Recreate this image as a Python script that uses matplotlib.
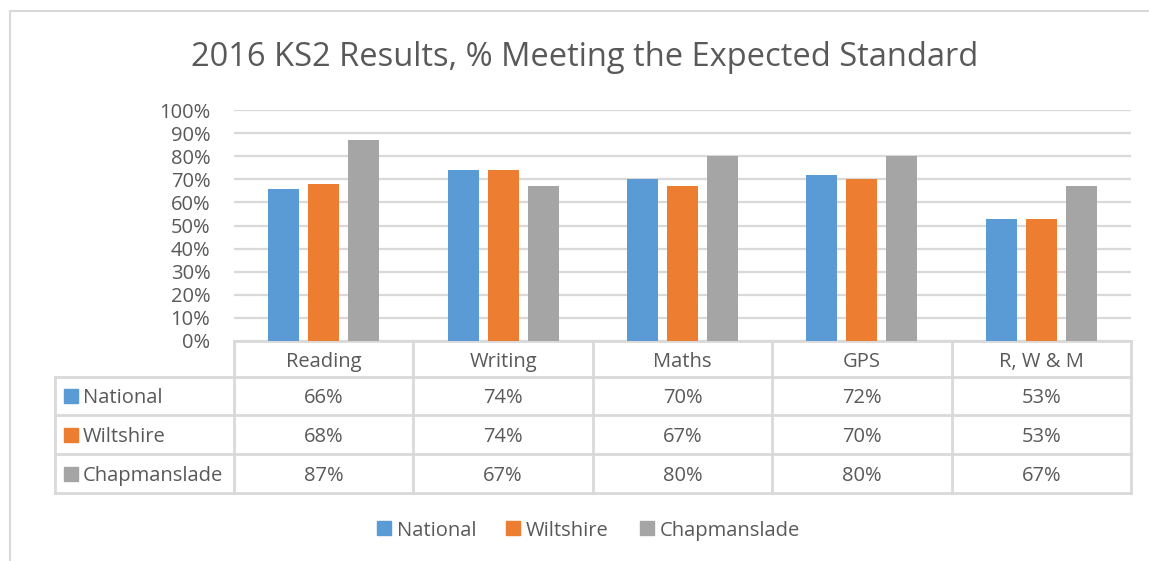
import numpy as np
import matplotlib
matplotlib.use("Agg")
import matplotlib.pyplot as plt
from matplotlib.patches import Rectangle

plt.rcParams['font.family'] = ['Open Sans', 'DejaVu Sans']

categories = ['Reading', 'Writing', 'Maths', 'GPS', 'R, W & M']
series = ['National', 'Wiltshire', 'Chapmanslade']
national = [66, 74, 70, 72, 53]
wiltshire = [68, 74, 67, 70, 53]
chapmanslade = [87, 67, 80, 80, 67]
colors = ['#5b9bd5', '#ed7d31', '#a5a5a5']
title = '2016 KS2 Results, % Meeting the Expected Standard'

txt = '#595959'
grid = '#d9d9d9'
W, H = 1149, 561
fs = 14.5

fig = plt.figure(figsize=(W / 100, H / 100), dpi=100)

# overlay in pixel coords (y from top) for frame, title, table, legend
ov = fig.add_axes([0, 0, 1, 1])
ov.set_xlim(0, W)
ov.set_ylim(H, 0)
ov.axis('off')

# main plot area
x0, x1, ytop, ybot = 234, 1131, 110, 341
ax = fig.add_axes([x0 / W, (H - ybot) / H, (x1 - x0) / W, (ybot - ytop) / H])
ax.set_xlim(-0.5, len(categories) - 0.5)
ax.set_ylim(0, 100)
ax.set_yticks(np.arange(0, 101, 10))
ax.set_yticklabels([f'{v}%' for v in range(0, 101, 10)], color=txt, fontsize=fs)
ax.tick_params(axis='y', length=0, pad=17)
ax.set_xticks([])
for s in ax.spines.values():
    s.set_visible(False)
ax.grid(axis='y', color=grid, linewidth=1.6)
ax.set_axisbelow(True)

x = np.arange(len(categories))
bw = 0.173
off = 0.223
for i, (vals, c) in enumerate(zip([national, wiltshire, chapmanslade], colors)):
    ax.bar(x + (i - 1) * off, vals, width=bw, color=c, zorder=3)

# outer frame
ov.plot([10, 10], [11, H], color=grid, lw=1.5)
ov.plot([10, W], [11, 11], color=grid, lw=1.5)

ov.text(585, 57, title, ha='center', va='center', fontsize=23.5, color=txt)

# data table
col_w = (x1 - x0) / len(categories)
cols = [x0 + i * col_w for i in range(len(categories) + 1)]
rows = [341, 377, 415, 454, 493]
lw = 2
ov.plot([x0, x1], [rows[0], rows[0]], color=grid, lw=lw)
for r in rows[1:]:
    ov.plot([55, x1], [r, r], color=grid, lw=lw)
for c in cols:
    ov.plot([c, c], [rows[0], rows[-1]], color=grid, lw=lw)
ov.plot([55, 55], [rows[1], rows[-1]], color=grid, lw=lw)

for j, cat in enumerate(categories):
    ov.text((cols[j] + cols[j + 1]) / 2, (rows[0] + rows[1]) / 2 + 3, cat,
            ha='center', va='center', fontsize=fs, color=txt)
for i, (name, vals, c) in enumerate(zip(series, [national, wiltshire, chapmanslade], colors)):
    yc = (rows[i + 1] + rows[i + 2]) / 2
    ov.add_patch(Rectangle((64, yc - 7), 14, 14, color=c))
    ov.text(83, yc + 2, name, ha='left', va='center', fontsize=fs, color=txt)
    for j, v in enumerate(vals):
        ov.text((cols[j] + cols[j + 1]) / 2, yc + 2, f'{v}%',
                ha='center', va='center', fontsize=fs, color=txt)

# legend
leg_x = [377, 506, 640]
for lx, name, c in zip(leg_x, series, colors):
    ov.add_patch(Rectangle((lx, 521), 14, 14, color=c))
    ov.text(lx + 20, 531, name, ha='left', va='center', fontsize=fs, color=txt)

fig.savefig('out.png', dpi=100)
